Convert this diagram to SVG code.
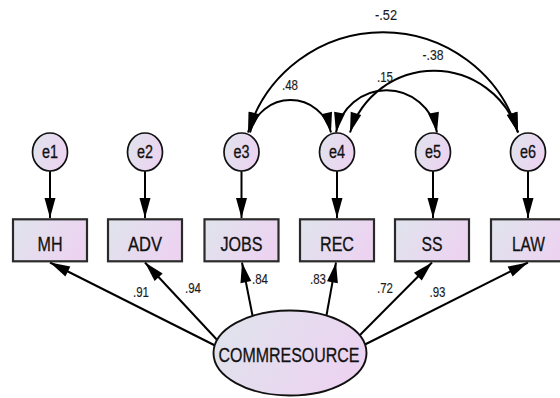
<svg xmlns="http://www.w3.org/2000/svg" width="560" height="398" viewBox="0 0 560 398">
  <defs>
    <linearGradient id="fillGrad" x1="0" y1="0" x2="1" y2="0.35">
      <stop offset="0" stop-color="#DFE4EC"/>
      <stop offset="1" stop-color="#ECD4F1"/>
    </linearGradient>
    <marker id="head" markerUnits="userSpaceOnUse" markerWidth="20" markerHeight="11" refX="20" refY="5.5" orient="auto-start-reverse" overflow="visible">
      <path d="M0,0 L20,5.5 L0,11 Z" fill="#000"/>
    </marker>
    <style>
      .edge { fill: none; stroke: #000; stroke-width: 2; marker-end: url(#head); }
      .cov { fill: none; stroke: #000; stroke-width: 2; marker-start: url(#head); marker-end: url(#head); }
      .err { fill: url(#fillGrad); stroke: #111; stroke-width: 1.7; }
      .obs { fill: url(#fillGrad); stroke: #2a2a2a; stroke-width: 2.2; }
      .lat { fill: url(#fillGrad); stroke: #111; stroke-width: 1.9; }
      text { font-family: "Liberation Sans", Arial, sans-serif; text-anchor: middle; stroke-width: 0.3; }
      .lbl { font-size: 20.5px; fill: #111; stroke: #111; }
      .elbl { font-size: 18px; fill: #111; stroke: #111; }
      .num { font-size: 15.5px; fill: #1a1a1a; stroke: #1a1a1a; stroke-width: 0.15; }
    </style>
  </defs>

  <!-- connectors: error paths, loadings, covariances -->
  <g id="connectors">
    <path class="edge" d="M50,171 L50,218"/>
    <path class="edge" d="M145,171 L145,218"/>
    <path class="edge" d="M241.5,171 L241.5,218"/>
    <path class="edge" d="M337,171 L337,218"/>
    <path class="edge" d="M433,171 L433,218"/>
    <path class="edge" d="M528,171 L528,218"/>

    <path class="edge" d="M222,349 L50,262.5"/>
    <path class="edge" d="M220,343 L145,262.5"/>
    <path class="edge" d="M253,318 L242,262.5"/>
    <path class="edge" d="M326,318 L336,262.5"/>
    <path class="edge" d="M354,341 L432,262.5"/>
    <path class="edge" d="M358,348 L528,262.5"/>

    <path class="cov" d="M248,132.5 A141,141 0 0,1 518,132.5"/>
    <path class="cov" d="M350,132.5 A88,88 0 0,1 518,132.5"/>
    <path class="cov" d="M250,132.5 A41.5,41.5 0 0,1 331,132.5"/>
    <path class="cov" d="M336,132.5 A51.3,51.3 0 0,1 437,132.5"/>

    <text class="num" x="141" y="297" textLength="16" lengthAdjust="spacingAndGlyphs">.91</text>
    <text class="num" x="193" y="293" textLength="16" lengthAdjust="spacingAndGlyphs">.94</text>
    <text class="num" x="260" y="284" textLength="16" lengthAdjust="spacingAndGlyphs">.84</text>
    <text class="num" x="318" y="284" textLength="16" lengthAdjust="spacingAndGlyphs">.83</text>
    <text class="num" x="385" y="293" textLength="16" lengthAdjust="spacingAndGlyphs">.72</text>
    <text class="num" x="437.5" y="297" textLength="16" lengthAdjust="spacingAndGlyphs">.93</text>
    <text class="num" x="386" y="20" textLength="22" lengthAdjust="spacingAndGlyphs">-.52</text>
    <text class="num" x="433" y="60" textLength="21" lengthAdjust="spacingAndGlyphs">-.38</text>
    <text class="num" x="385" y="82" textLength="16" lengthAdjust="spacingAndGlyphs">.15</text>
    <text class="num" x="290" y="90" textLength="16" lengthAdjust="spacingAndGlyphs">.48</text>
  </g>

  <!-- error terms -->
  <g id="e1"><ellipse class="err" cx="50" cy="152" rx="17.5" ry="19"/><text class="elbl" x="50" y="158" textLength="16" lengthAdjust="spacingAndGlyphs">e1</text></g>
  <g id="e2"><ellipse class="err" cx="145" cy="152" rx="17.5" ry="19"/><text class="elbl" x="145" y="158" textLength="16" lengthAdjust="spacingAndGlyphs">e2</text></g>
  <g id="e3"><ellipse class="err" cx="241.5" cy="152" rx="17.5" ry="19"/><text class="elbl" x="241.5" y="158" textLength="16" lengthAdjust="spacingAndGlyphs">e3</text></g>
  <g id="e4"><ellipse class="err" cx="337" cy="152" rx="17.5" ry="19"/><text class="elbl" x="337" y="158" textLength="16" lengthAdjust="spacingAndGlyphs">e4</text></g>
  <g id="e5"><ellipse class="err" cx="433" cy="152" rx="17.5" ry="19"/><text class="elbl" x="433" y="158" textLength="16" lengthAdjust="spacingAndGlyphs">e5</text></g>
  <g id="e6"><ellipse class="err" cx="528" cy="152" rx="17.5" ry="19"/><text class="elbl" x="528" y="158" textLength="16" lengthAdjust="spacingAndGlyphs">e6</text></g>

  <!-- observed indicators -->
  <g id="MH"><rect class="obs" x="13" y="219.3" width="74" height="42"/><text class="lbl" x="50" y="250.5" textLength="25" lengthAdjust="spacingAndGlyphs">MH</text></g>
  <g id="ADV"><rect class="obs" x="108" y="219.3" width="74" height="42"/><text class="lbl" x="145" y="250.5" textLength="34" lengthAdjust="spacingAndGlyphs">ADV</text></g>
  <g id="JOBS"><rect class="obs" x="204.5" y="219.3" width="74" height="42"/><text class="lbl" x="241.5" y="250.5" textLength="42" lengthAdjust="spacingAndGlyphs">JOBS</text></g>
  <g id="REC"><rect class="obs" x="300" y="219.3" width="74" height="42"/><text class="lbl" x="337" y="250.5" textLength="34" lengthAdjust="spacingAndGlyphs">REC</text></g>
  <g id="SS"><rect class="obs" x="395" y="219.3" width="74" height="42"/><text class="lbl" x="432" y="250.5" textLength="21" lengthAdjust="spacingAndGlyphs">SS</text></g>
  <g id="LAW"><rect class="obs" x="491" y="219.3" width="74" height="42"/><text class="lbl" x="528.5" y="250.5" textLength="33" lengthAdjust="spacingAndGlyphs">LAW</text></g>

  <!-- latent factor -->
  <g id="COMMRESOURCE"><ellipse class="lat" cx="290" cy="353" rx="76.5" ry="42.5"/><text class="lbl" x="289" y="361.5" textLength="141" lengthAdjust="spacingAndGlyphs">COMMRESOURCE</text></g>
</svg>
